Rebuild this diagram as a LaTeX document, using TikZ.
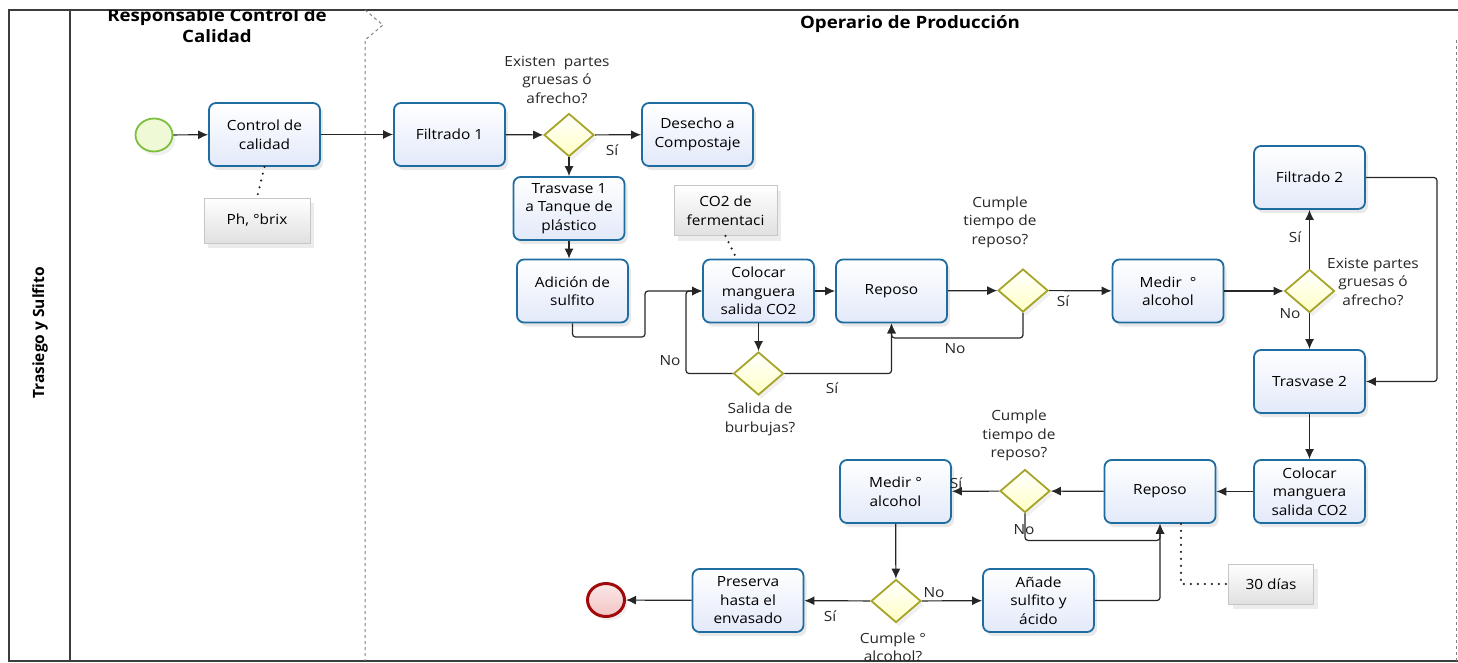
\documentclass[tikz,border=0pt]{standalone}
\usepackage{fontspec}
\setmainfont{Open Sans}[FakeStretch=1.1]
\newfontfamily\poolfont{Open Sans}
\usetikzlibrary{arrows.meta,positioning,shapes.geometric,shadows}

\definecolor{taskblue}{RGB}{31,109,160}
\definecolor{taskfill}{RGB}{226,233,249}
\definecolor{gateolive}{RGB}{166,165,42}
\definecolor{gatefill}{RGB}{255,255,196}
\definecolor{startgreen}{RGB}{125,190,60}
\definecolor{startfill}{RGB}{240,249,214}
\definecolor{endred}{RGB}{160,10,10}
\definecolor{endfill}{RGB}{244,196,196}
\definecolor{poolline}{RGB}{60,60,60}

\newcommand{\txt}{\fontsize{14}{18.5}\selectfont}
\tikzset{
  task/.style={draw=taskblue, line width=1.8pt, rounded corners=7pt,
    top color=white, bottom color=taskfill, minimum width=111pt,
    minimum height=63pt, align=center, inner sep=2pt, font=\txt,
    drop shadow={opacity=0.18, shadow xshift=3pt, shadow yshift=-4pt}},
  gate/.style={diamond, draw=gateolive, line width=1.8pt, top color=white,
    bottom color=gatefill, minimum width=50pt, minimum height=43pt,
    inner sep=0pt, drop shadow={opacity=0.12, shadow xshift=3pt, shadow yshift=-4pt}},
  note/.style={draw=gray!45, line width=0.8pt, top color=white,
    bottom color=gray!24, align=center, font=\txt,
    drop shadow={opacity=0.15, shadow xshift=4pt, shadow yshift=-5pt}},
  event/.style={ellipse, minimum width=37pt, minimum height=33pt, inner sep=0pt},
  flow/.style={-{Latex[length=10pt, width=9pt]}, line width=1.2pt,
    draw=black!85, rounded corners=3pt},
  assoc/.style={line width=2.4pt, dash pattern=on 0pt off 7pt,
    line cap=round, draw=black!85},
  qtxt/.style={align=center, font=\txt, text=black!85, inner sep=0pt},
  anstxt/.style={font=\txt, text=black!85, inner sep=0pt},
  lanetxt/.style={font=\fontsize{17}{21}\selectfont\bfseries, align=center, inner sep=0pt},
}
\newcommand{\question}[3]{\node[qtxt] (#1) at (#2) {#3};}
\newcommand{\answer}[3]{\node[anstxt] (#1) at (#2) {#3};}

\begin{document}
\begin{tikzpicture}[x=1pt, y=-1pt]
  \useasboundingbox (0,0) rectangle (1458,662);

  %% ---- pool and lanes ----
  \draw[poolline, line width=1.3pt] (1458,10) -- (9,10) -- (9,661) -- (1458,661);
  \draw[poolline, line width=1.3pt] (70,10) -- (70,661);
  \draw[gray, dashed, line width=1pt] (365,10) -- (383,25) -- (365,40) -- (365,661);
  \draw[gray, dashed, line width=1pt] (1456,40) -- (1456,661);

  \node[lanetxt, font=\poolfont\fontsize{15.5}{21}\selectfont\bfseries, rotate=90] (pool) at (40,333) {Trasiego y Sulfito};
  \begin{scope}
    \clip (70,10) rectangle (365,60);
    \node[lanetxt] (lane1) at (217,25.5) {Responsable Control de\\Calidad};
  \end{scope}
  \node[lanetxt] (lane2) at (910,24) {Operario de Producción};

  %% ---- first row ----
  \node[event, draw=startgreen, line width=1.8pt, fill=startfill,
    drop shadow={opacity=0.12, shadow xshift=3pt, shadow yshift=-4pt}] (inicio) at (154,135) {};
  \node[task] (ctrl)  at (264.5,134.5) {Control de\\calidad};
  \node[note, minimum width=106pt, minimum height=45pt] (ph) at (257,220.5) {Ph, °brix};
  \node[task] (filt1) at (449.5,134.5) {Filtrado 1};
  \node[gate] (g1) at (569,135) {};
  \question{q1}{557,79.5}{Existen~ partes\\gruesas ó\\afrecho?}
  \node[task] (desecho) at (697.5,134.5) {Desecho a\\Compostaje};
  \answer{a1}{612,150}{Sí}

  \draw[flow] (inicio) -- (ctrl);
  \draw[flow] (ctrl) -- (filt1);
  \draw[flow] (filt1) -- (g1);
  \draw[flow] (g1) -- (desecho);
  \draw[assoc] (ctrl.south) -- (ph.north);

  %% ---- sulfite and CO2 loop ----
  \node[task] (tras1) at (569,208.5) {Trasvase 1\\a Tanque de\\plástico};
  \node[task] (adic)  at (572.5,291) {Adición de\\sulfito};
  \node[note, minimum width=103pt, minimum height=50pt] (co2) at (725.5,210.5) {CO2 de\\fermentaci};
  \node[task] (coloc) at (758.5,291) {Colocar\\manguera\\salida CO2};
  \node[task] (repo1) at (891.5,291) {Reposo};
  \node[gate] (g2) at (758.5,373.5) {};
  \question{q2}{760,419.5}{Salida de\\burbujas?}
  \node[gate] (g3) at (1023,290.5) {};
  \question{q3}{1000,222}{Cumple\\tiempo de\\reposo?}
  \node[task] (medir1) at (1168,291) {Medir~ °\\alcohol};
  \answer{a2}{670,361}{No}
  \answer{a3}{832,388}{Sí}
  \answer{a4}{955,349}{No}
  \answer{a5}{1063,301}{Sí}

  \draw[flow] (g1) -- (tras1);
  \draw[flow] (tras1.south) -- (tras1.south |- adic.north);
  \draw[flow] (adic.south) |- (645,337) |- (coloc.west);
  \draw[assoc] (co2.south) -- ([xshift=-22pt]coloc.north);
  \draw[flow] (coloc) -- (repo1);
  \draw[flow] (coloc) -- (g2);
  \draw[flow] (g2.west) -| (686,291) -- (coloc.west);
  \draw[flow] (g2.east) -| (repo1.south);
  \draw[flow] (repo1) -- (g3);
  \draw[flow] (g3.south) -- ++(0,25) -| (repo1.south);
  \draw[flow] (g3) -- (medir1);

  %% ---- second filtering ----
  \node[gate] (g4) at (1309.5,291) {};
  \question{q4}{1373,281.5}{Existe partes\\gruesas ó\\afrecho?}
  \node[task] (filt2) at (1309.5,177.5) {Filtrado 2};
  \node[task] (tras2) at (1309.5,381.5) {Trasvase 2};
  \coordinate (bend) at (1437,381.5);
  \answer{a6}{1295,237}{Sí}
  \answer{a7}{1290,314}{No}

  \draw[flow] (medir1) -- (g4);
  \draw[flow] (g4) -- (filt2);
  \draw[flow] (g4) -- (tras2);
  \draw[flow] (filt2.east) -| (bend) -- (tras2.east);

  %% ---- bottom row, right to left ----
  \node[task] (coloc2) at (1309.5,491.5) {Colocar\\manguera\\salida CO2};
  \node[task] (repo2)  at (1160,491.5) {Reposo};
  \node[note, minimum width=85pt, minimum height=40pt] (dias) at (1271,584) {30 días};
  \node[gate] (g5) at (1025,491) {};
  \question{q5}{1019,435.5}{Cumple\\tiempo de\\reposo?}
  \node[task] (medir2) at (895.5,491.5) {Medir °\\alcohol};
  \node[gate] (g6) at (896,601) {};
  \question{q6}{893,647.5}{Cumple °\\alcohol?}
  \node[task] (anade) at (1038.5,600.5) {Añade\\sulfito y\\ácido};
  \node[task] (preserva) at (748,600.5) {Preserva\\hasta el\\envasado};
  \node[event, draw=endred, line width=3pt, top color=endfill!40, bottom color=endfill,
    drop shadow={opacity=0.12, shadow xshift=3pt, shadow yshift=-4pt}] (fin) at (606,600) {};
  \answer{a8}{956,483}{Sí}
  \answer{a9}{1024,530}{No}
  \answer{a10}{934,593}{No}
  \answer{a11}{830,616}{Sí}

  \draw[flow] (tras2) -- (coloc2);
  \draw[flow] (coloc2) -- (repo2);
  \draw[flow] (repo2) -- (g5);
  \draw[flow] (g5) -- (medir2);
  \draw[flow] (g5.south) -- ++(0,27) -| (repo2.south);
  \draw[assoc] ([xshift=21pt]repo2.south) |- (dias.west);
  \draw[flow] (medir2) -- (g6);
  \draw[flow] (g6) -- (anade);
  \draw[flow] (anade.east) -| (repo2.south);
  \draw[flow] (g6) -- (preserva);
  \draw[flow] (preserva) -- (fin);

\end{tikzpicture}
\end{document}
